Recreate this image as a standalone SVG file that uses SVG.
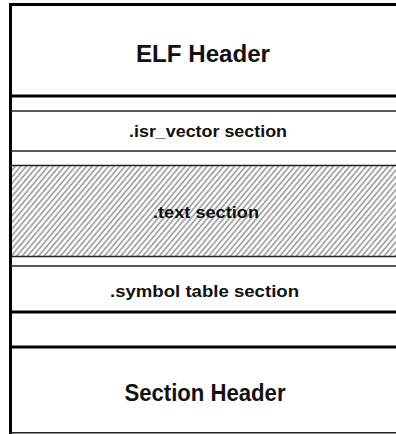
<svg xmlns="http://www.w3.org/2000/svg" width="396" height="434" viewBox="0 0 396 434">
<style>
.t{font-family:"Liberation Sans",Arial,sans-serif;font-weight:bold;fill:#111;text-anchor:middle}
.big{font-size:24px}
.sm{font-size:16.5px}
.thick{stroke:#000;stroke-width:3;fill:none}
.thin{stroke:#222;stroke-width:1.6;fill:none}
</style>
<defs>
<pattern id="hatch" width="4.2" height="4.2" patternUnits="userSpaceOnUse" patternTransform="rotate(40)">
<rect width="4.2" height="4.2" fill="#fff"/>
<line x1="1" y1="0" x2="1" y2="4.2" stroke="#9a9a9a" stroke-width="1.6"/>
</pattern>
</defs>
<rect width="396" height="434" fill="#fff"/>
<g id="elf-header">
<text class="t big" x="203" y="62" textLength="134" lengthAdjust="spacingAndGlyphs">ELF Header</text>
</g>
<g id="isr-vector">
<text class="t sm" x="208" y="137" textLength="158" lengthAdjust="spacingAndGlyphs">.isr_vector section</text>
</g>
<g id="text-section">
<rect x="12" y="166" width="384" height="90" fill="url(#hatch)"/>
<text class="t sm" x="206" y="218" textLength="106" lengthAdjust="spacingAndGlyphs">.text section</text>
</g>
<g id="symbol-table">
<text class="t sm" x="204.5" y="297" textLength="189" lengthAdjust="spacingAndGlyphs">.symbol table section</text>
</g>
<g id="section-header">
<text class="t big" x="205" y="401" textLength="161" lengthAdjust="spacingAndGlyphs">Section Header</text>
</g>
<g id="connectors">
<line class="thick" x1="9" y1="4.5" x2="396" y2="4.5"/>
<line class="thick" x1="10.5" y1="3" x2="10.5" y2="434"/>
<line class="thick" x1="10.5" y1="96" x2="396" y2="96"/>
<line class="thin" x1="10.5" y1="111" x2="396" y2="111"/>
<line class="thin" x1="10.5" y1="151" x2="396" y2="151" stroke-width="2"/>
<line class="thin" x1="10.5" y1="165.5" x2="396" y2="165.5"/>
<line class="thin" x1="10.5" y1="256.5" x2="396" y2="256.5"/>
<line class="thin" x1="10.5" y1="266" x2="396" y2="266" stroke-width="2"/>
<line class="thick" x1="10.5" y1="312" x2="396" y2="312" stroke-width="2.4" stroke="#222"/>
<line class="thick" x1="10.5" y1="347" x2="396" y2="347"/>
<line class="thin" x1="10.5" y1="432.8" x2="396" y2="432.8" stroke-width="2.4"/>
</g>
</svg>
